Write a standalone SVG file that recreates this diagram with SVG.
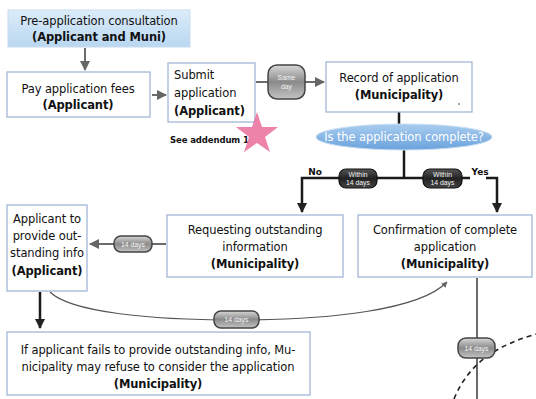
<svg xmlns="http://www.w3.org/2000/svg" width="536" height="399" viewBox="0 0 536 399">
  <defs>
    <linearGradient id="preFill" x1="0" y1="0" x2="0" y2="1">
      <stop offset="0" stop-color="#dcecf9"/>
      <stop offset="1" stop-color="#b9d7f1"/>
    </linearGradient>
    <linearGradient id="pillFill" x1="0" y1="0" x2="0" y2="1">
      <stop offset="0" stop-color="#d8d8d8"/>
      <stop offset="0.5" stop-color="#8a8a8a"/>
      <stop offset="1" stop-color="#c4c4c4"/>
    </linearGradient>
    <linearGradient id="pillDark" x1="0" y1="0" x2="0" y2="1">
      <stop offset="0" stop-color="#555"/>
      <stop offset="0.5" stop-color="#222"/>
      <stop offset="1" stop-color="#444"/>
    </linearGradient>
    <linearGradient id="ovalFill" x1="0" y1="0" x2="0" y2="1">
      <stop offset="0" stop-color="#a9cdf0"/>
      <stop offset="1" stop-color="#6aa2dc"/>
    </linearGradient>
    <marker id="ah" viewBox="0 0 10 10" refX="9" refY="5" markerWidth="5" markerHeight="5" orient="auto">
      <path d="M0,0 L10,5 L0,10 z" fill="#666"/>
    </marker>
    <marker id="ahDark" viewBox="0 0 10 10" refX="9" refY="5" markerWidth="4" markerHeight="4" orient="auto">
      <path d="M0,0 L10,5 L0,10 z" fill="#222"/>
    </marker>
  </defs>
  <style>
    .box { fill: #ffffff; stroke: #a4b6d8; stroke-width: 1.3; }
    .t { font-family: "DejaVu Sans", "Liberation Sans", sans-serif; font-size: 11.5px; fill: #111; letter-spacing: -0.1px; }
    .b { font-weight: bold; }
    .link { fill: none; stroke: #6b6b6b; stroke-width: 2; }
    .dark { fill: none; stroke: #1a1a1a; stroke-width: 2.5; }
    .thin { fill: none; stroke: #555; stroke-width: 1.2; }
    .pill { fill: url(#pillFill); stroke: #444; stroke-width: 1.5; }
    .pillD { fill: url(#pillDark); stroke: #111; stroke-width: 1.2; }
    .pt { font-family: "Liberation Sans", Arial, sans-serif; font-size: 6.8px; fill: #f4f4f4; text-anchor: middle; }
  </style>
  <rect width="536" height="399" fill="#ffffff"/>

  <g id="connectors">
    <line class="link" x1="85" y1="48" x2="85" y2="70" marker-end="url(#ah)"/>
    <line class="link" x1="152" y1="95" x2="166" y2="95" marker-end="url(#ah)"/>
    <line class="link" x1="256" y1="82" x2="324" y2="82" marker-end="url(#ah)"/>
    <line class="dark" x1="399" y1="112" x2="399" y2="124"/>
    <line class="dark" x1="404" y1="150" x2="404" y2="178"/>
    <polyline class="dark" points="320,178 302,178 302,212" marker-end="url(#ahDark)"/>
    <line class="dark" x1="320" y1="178" x2="470" y2="178"/>
    <polyline class="dark" points="486,178 497,178 497,212" marker-end="url(#ahDark)"/>
    <line class="link" x1="166" y1="244" x2="90" y2="244" marker-end="url(#ah)"/>
    <line class="dark" x1="40" y1="292" x2="40" y2="328" marker-end="url(#ahDark)"/>
    <path class="thin" d="M50,292 C70,312 150,320 235,320 C330,320 420,310 447,282" marker-end="url(#ah)"/>
    <line class="link" x1="477" y1="278" x2="477" y2="399"/>
    <path d="M454,399 C470,360 500,345 536,334" fill="none" stroke="#222" stroke-width="1.6" stroke-dasharray="5,4"/>
    <!-- timing pills -->
    <rect class="pill" x="268" y="65" width="37" height="34" rx="9"/>
    <text class="pt" x="286.5" y="80">Same</text>
    <text class="pt" x="286.5" y="89">day</text>
    <rect class="pillD" x="339" y="169" width="38" height="19" rx="7"/>
    <text class="pt" x="358" y="177">Within</text>
    <text class="pt" x="358" y="185">14 days</text>
    <rect class="pillD" x="423" y="169" width="39" height="19" rx="7"/>
    <text class="pt" x="442.5" y="177">Within</text>
    <text class="pt" x="442.5" y="185">14 days</text>
    <rect class="pill" x="114" y="236" width="38" height="16" rx="7"/>
    <text class="pt" x="133" y="246.5">14 days</text>
    <rect class="pill" x="214" y="311" width="45" height="17" rx="7"/>
    <text class="pt" x="236.5" y="322">14 days</text>
    <rect class="pill" x="458" y="338" width="37" height="20" rx="8"/>
    <text class="pt" x="476.5" y="350.5">14 days</text>
  </g>

  <g id="pre-application">
    <rect x="8" y="10" width="182" height="37" fill="url(#preFill)" stroke="#c9dcef" stroke-width="1"/>
    <text class="t" x="99" y="25" text-anchor="middle">Pre-application consultation</text>
    <text class="t b" x="99" y="41" text-anchor="middle">(Applicant and Muni)</text>
  </g>

  <g id="pay-fees">
    <rect class="box" x="7" y="72" width="143" height="45"/>
    <text class="t" x="78" y="93" text-anchor="middle">Pay application fees</text>
    <text class="t b" x="78" y="109" text-anchor="middle">(Applicant)</text>
  </g>

  <g id="submit">
    <rect class="box" x="168" y="63" width="87" height="59"/>
    <text class="t" x="174" y="79">Submit</text>
    <text class="t" x="174" y="97">application</text>
    <text class="t b" x="174" y="115">(Applicant)</text>
    <text class="t b" x="170" y="143" style="font-size:8.5px">See addendum 1</text>
    <path d="M257,112 L262,127 L278,127 L265,137 L270,152 L257,143 L244,152 L249,137 L236,127 L252,127 z" fill="#ea6d9c" opacity="0.85"/>
  </g>

  <g id="record">
    <rect class="box" x="326" y="62" width="146" height="50"/>
    <text class="t" x="399" y="82" text-anchor="middle">Record of application</text>
    <text class="t b" x="399" y="99" text-anchor="middle">(Municipality)</text>
    <circle cx="459" cy="104" r="0.8" fill="#333"/>
  </g>

  <g id="complete-check">
    <ellipse cx="404" cy="137" rx="88" ry="13" fill="url(#ovalFill)" stroke="#c7ddf3" stroke-width="1"/>
    <text class="t" x="404" y="141" text-anchor="middle" style="fill:#ffffff">Is the application complete?</text>
    <text class="t b" x="315" y="175" text-anchor="middle" style="font-size:9px">No</text>
    <text class="t b" x="480" y="175" text-anchor="middle" style="font-size:9px">Yes</text>
  </g>

  <g id="requesting">
    <rect class="box" x="167" y="215" width="176" height="62"/>
    <text class="t" x="255" y="234" text-anchor="middle">Requesting outstanding</text>
    <text class="t" x="255" y="251" text-anchor="middle">information</text>
    <text class="t b" x="255" y="268" text-anchor="middle">(Municipality)</text>
  </g>

  <g id="confirmation">
    <rect class="box" x="358" y="215" width="174" height="62"/>
    <text class="t" x="445" y="234" text-anchor="middle">Confirmation of complete</text>
    <text class="t" x="445" y="251" text-anchor="middle">application</text>
    <text class="t b" x="445" y="268" text-anchor="middle">(Municipality)</text>
  </g>

  <g id="applicant-provide">
    <rect class="box" x="7" y="205" width="80" height="86"/>
    <text class="t" x="47" y="223" text-anchor="middle">Applicant to</text>
    <text class="t" x="47" y="240" text-anchor="middle">provide out-</text>
    <text class="t" x="47" y="257" text-anchor="middle">standing info</text>
    <text class="t b" x="47" y="275" text-anchor="middle">(Applicant)</text>
  </g>

  <g id="refusal">
    <rect class="box" x="7" y="332" width="303" height="63"/>
    <text class="t" x="158" y="354" text-anchor="middle">If applicant fails to provide outstanding info, Mu-</text>
    <text class="t" x="158" y="371" text-anchor="middle">nicipality may refuse to consider the application</text>
    <text class="t b" x="158" y="388" text-anchor="middle">(Municipality)</text>
  </g>
</svg>
